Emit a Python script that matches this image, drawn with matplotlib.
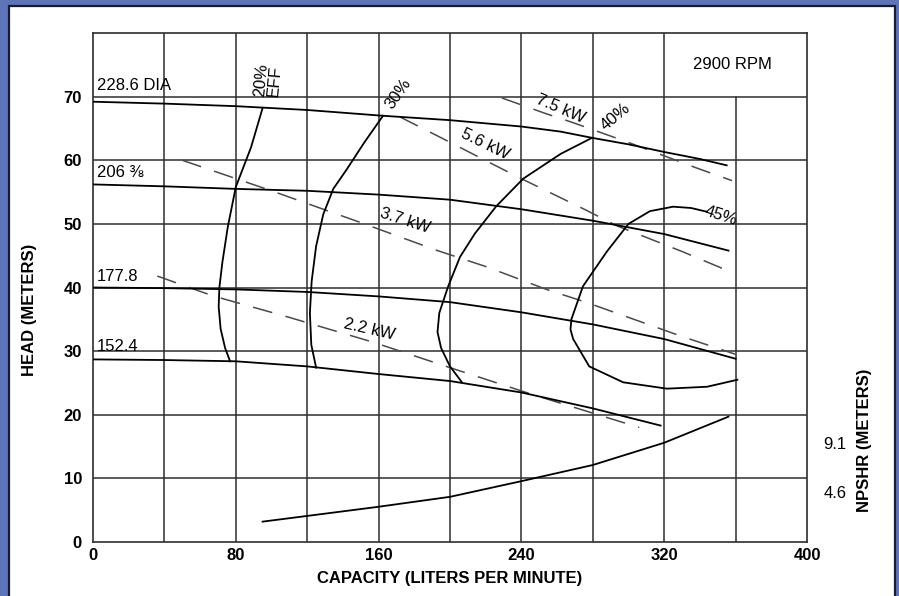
import matplotlib
matplotlib.use('Agg')
import matplotlib.pyplot as plt
from matplotlib.patches import Rectangle

plt.rcParams['font.family'] = ['Liberation Sans', 'DejaVu Sans']

# head curves per impeller diameter
q_228 = [0, 40, 80, 120, 162, 200, 240, 262, 280, 300, 320, 340, 355]
h_228 = [69.2, 68.9, 68.5, 67.9, 67.0, 66.3, 65.3, 64.5, 63.5, 62.5, 61.3, 60.2, 59.2]
q_206 = [0, 40, 80, 120, 160, 200, 240, 280, 320, 356]
h_206 = [56.2, 55.9, 55.5, 55.2, 54.6, 53.8, 52.3, 50.5, 48.4, 45.8]
q_178 = [0, 40, 80, 120, 160, 200, 240, 280, 320, 360]
h_178 = [40.0, 39.9, 39.7, 39.3, 38.6, 37.7, 36.1, 34.2, 31.9, 28.8]
q_152 = [0, 40, 80, 120, 160, 200, 240, 280, 318]
h_152 = [28.7, 28.6, 28.4, 27.6, 26.4, 25.3, 23.5, 21.0, 18.3]

# efficiency curves
q_e20 = [95, 88.5, 80, 75.5, 72.5, 70.8, 70.4, 71.5, 74, 76.8]
h_e20 = [68.2, 62.0, 55.8, 49.5, 44.0, 40.0, 37.0, 33.5, 30.5, 28.4]
q_e30 = [162.5, 152, 142, 134.6, 129, 125, 122.5, 121.5, 122.3, 125]
h_e30 = [67.0, 62.8, 58.5, 55.5, 51.5, 46.5, 41.0, 36.0, 31.0, 27.4]
q_e40 = [279.4, 262, 241, 226, 214, 205.6, 199, 194, 193, 195, 200, 206.7]
h_e40 = [63.5, 61.0, 57.1, 52.8, 48.5, 44.8, 40.2, 36.0, 33.0, 30.5, 27.6, 25.1]
q_e45 = [344, 335, 325, 312, 300, 288, 274.5, 268, 267.5, 269, 278, 297, 321.5, 344, 361]
h_e45 = [51.9, 52.5, 52.7, 52.0, 50.0, 45.7, 40.2, 35.0, 33.4, 31.9, 27.6, 25.1, 24.1, 24.4, 25.5]

# power curves
q_p75 = [229, 254, 268, 299, 338, 358]
h_p75 = [69.8, 67.3, 66.0, 62.9, 58.8, 56.8]
q_p56 = [172, 196, 221, 240, 274.5, 293.5, 330.5, 356]
h_p56 = [66.8, 63.4, 59.8, 57.1, 52.4, 49.7, 45.6, 42.6]
q_p37 = [50, 100, 150, 193, 220, 254, 276, 300, 330, 360]
h_p37 = [60.0, 55.2, 50.2, 45.8, 43.3, 39.7, 37.7, 35.3, 32.3, 29.5]
q_p22 = [36, 67, 110, 157, 200, 246, 306]
h_p22 = [41.8, 38.7, 35.3, 31.4, 27.4, 23.2, 18.0]

# NPSHR
q_npsh = [95, 159, 200, 239, 280, 320, 356]
h_npsh = [3.2, 5.5, 7.1, 9.5, 12.1, 15.6, 19.7]

x_ticks = [0, 80, 160, 240, 320, 400]
y_ticks = [0, 10, 20, 30, 40, 50, 60, 70]

fig = plt.figure(figsize=(8.99, 5.96), dpi=100, facecolor='#5f75b9')
fig.patches.append(Rectangle((9 / 899, -0.05), 886 / 899, 1.05 - 6 / 596,
                             transform=fig.transFigure, facecolor='white',
                             edgecolor='#161a33', linewidth=1.6, zorder=-5))

ax = fig.add_axes([93 / 899, 54 / 596, 714 / 899, 509 / 596])
ax.set_xlim(0, 400)
ax.set_ylim(0, 80)
ax.set_facecolor('white')

grid_c = '#2e2e2e'
for xv in range(40, 400, 40):
    top = 70 / 80 if xv == 360 else 1
    ax.axvline(xv, ymax=top, color=grid_c, lw=1.1, zorder=1)
for yv in range(10, 80, 10):
    ax.axhline(yv, color=grid_c, lw=1.1, zorder=1)
for s in ax.spines.values():
    s.set_color(grid_c)
    s.set_linewidth(1.2)

ax.set_xticks(x_ticks)
ax.set_yticks(y_ticks)
ax.tick_params(length=0, labelsize=12)
ax.tick_params(axis='y', pad=8)
ax.tick_params(axis='x', pad=4)
for t in ax.get_xticklabels() + ax.get_yticklabels():
    t.set_fontweight('bold')

solid = dict(color='black', lw=1.3, zorder=3)
for q, h in [(q_228, h_228), (q_206, h_206), (q_178, h_178), (q_152, h_152),
             (q_e20, h_e20), (q_e30, h_e30), (q_e40, h_e40), (q_e45, h_e45),
             (q_npsh, h_npsh)]:
    ax.plot(q, h, **solid)

for q, h in [(q_p75, h_p75), (q_p56, h_p56), (q_p37, h_p37), (q_p22, h_p22)]:
    ax.plot(q, h, color='#4a4a4a', lw=1.1, dashes=(13, 9), zorder=2)

fs = 12
ax.text(2, 71.8, '228.6 DIA', fontsize=fs, va='center')
ax.text(2, 58.0, '206 \u215c', fontsize=fs, va='center')
ax.text(2, 41.8, '177.8', fontsize=fs, va='center')
ax.text(2, 30.8, '152.4', fontsize=fs, va='center')
ax.text(98, 72.6, '20%\nEFF', fontsize=fs, rotation=85, ha='center', va='center',
        linespacing=0.85)
ax.text(171, 70.5, '30%', fontsize=fs, rotation=55, ha='center', va='center')
ax.text(293, 66.9, '40%', fontsize=fs, rotation=40, ha='center', va='center')
ax.text(352, 51.3, '45%', fontsize=fs, rotation=-18, ha='center', va='center')
ax.text(262, 68.1, '7.5 kW', fontsize=fs, rotation=-23, ha='center', va='center')
ax.text(220, 62.5, '5.6 kW', fontsize=fs, rotation=-26, ha='center', va='center')
ax.text(175, 50.5, '3.7 kW', fontsize=fs, rotation=-18, ha='center', va='center')
ax.text(155, 33.4, '2.2 kW', fontsize=fs, rotation=-13, ha='center', va='center')
ax.text(358.5, 75, '2900 RPM', fontsize=fs, ha='center', va='center')

ax.text(415.5, 15.3, '9.1', fontsize=fs, ha='center', va='center', clip_on=False)
ax.text(415.5, 7.7, '4.6', fontsize=fs, ha='center', va='center', clip_on=False)

fig.text(450 / 899, 1 - 578 / 596, 'CAPACITY (LITERS PER MINUTE)', fontsize=12,
         fontweight='bold', ha='center', va='center')
fig.text(30 / 899, 1 - 310 / 596, 'HEAD (METERS)', fontsize=12, fontweight='bold',
         rotation=90, ha='center', va='center')
fig.text(864 / 899, 1 - 440 / 596, 'NPSHR (METERS)', fontsize=12, fontweight='bold',
         rotation=90, ha='center', va='center')

fig.savefig('out.png', dpi=100, facecolor=fig.get_facecolor())
